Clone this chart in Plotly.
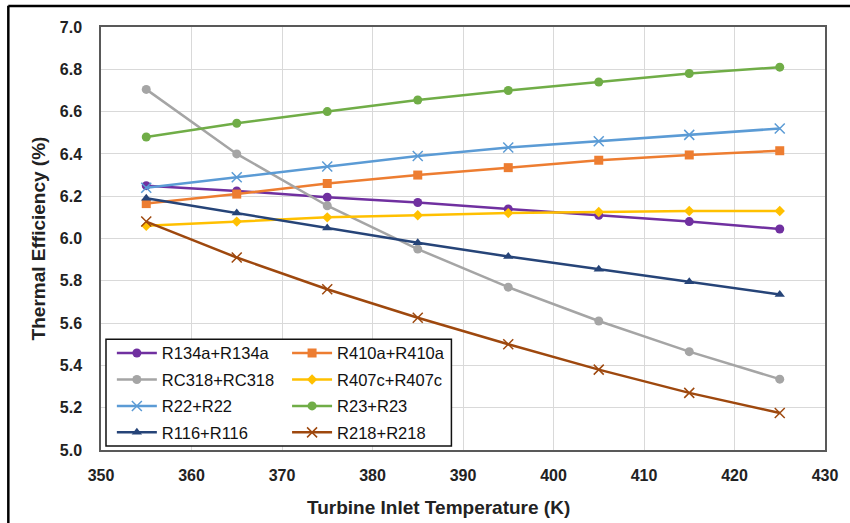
import plotly.graph_objects as go

temps = [355, 365, 375, 385, 395, 405, 415, 425]

r134a = [6.25, 6.225, 6.195, 6.17, 6.14, 6.11, 6.08, 6.045]
r410a = [6.165, 6.21, 6.26, 6.30, 6.335, 6.37, 6.395, 6.415]
rc318 = [6.705, 6.40, 6.155, 5.95, 5.77, 5.61, 5.465, 5.335]
r407c = [6.06, 6.08, 6.10, 6.11, 6.12, 6.125, 6.13, 6.13]
r22 = [6.24, 6.29, 6.34, 6.39, 6.43, 6.46, 6.49, 6.52]
r23 = [6.48, 6.545, 6.60, 6.655, 6.70, 6.74, 6.78, 6.81]
r116 = [6.19, 6.12, 6.05, 5.98, 5.915, 5.855, 5.795, 5.735]
r218 = [6.08, 5.91, 5.76, 5.625, 5.50, 5.38, 5.27, 5.175]

x_ticks = [350, 360, 370, 380, 390, 400, 410, 420, 430]
y_ticks = [5.0, 5.2, 5.4, 5.6, 5.8, 6.0, 6.2, 6.4, 6.6, 6.8, 7.0]

series = [
    # name, values, color, symbol, size, legend
    ("R134a+R134a", r134a, "#7030A0", "circle", 9, "legend"),
    ("RC318+RC318", rc318, "#A5A5A5", "circle", 9, "legend"),
    ("R22+R22", r22, "#5B9BD5", "x-thin", 10, "legend"),
    ("R116+R116", r116, "#264478", "triangle-up", 9, "legend"),
    ("R410a+R410a", r410a, "#ED7D31", "square", 9, "legend2"),
    ("R407c+R407c", r407c, "#FFC000", "diamond", 8, "legend2"),
    ("R23+R23", r23, "#70AD47", "circle", 9, "legend2"),
    ("R218+R218", r218, "#9E480E", "x-thin", 10, "legend2"),
]

order = ["R134a+R134a", "R410a+R410a", "RC318+RC318", "R407c+R407c",
         "R22+R22", "R23+R23", "R116+R116", "R218+R218"]
smap = {s[0]: s for s in series}

FONT = "Liberation Sans, Arial, sans-serif"

fig = go.Figure()
for nm in order:
    name, vals, color, sym, size, leg = smap[nm]
    marker = dict(color=color, symbol=sym, size=size)
    if sym.endswith("thin"):
        marker["line"] = dict(color=color, width=1.5)
    fig.add_trace(go.Scatter(
        x=temps, y=vals, name=name, mode="lines+markers",
        line=dict(color=color, width=2.5), marker=marker,
        legend=leg, legendgroup=name,
    ))

legend_common = dict(
    bgcolor="rgba(0,0,0,0)", borderwidth=0,
    font=dict(family=FONT, size=16.5, color="#111"),
    itemwidth=40, tracegroupgap=2, traceorder="grouped",
    xanchor="left", yanchor="top",
)

fig.update_layout(
    width=850, height=523,
    margin=dict(l=101, r=22, t=27, b=73),
    paper_bgcolor="white", plot_bgcolor="white",
    showlegend=True,
    legend=dict(x=0.015, y=0.27, **legend_common),
    legend2=dict(x=0.257, y=0.27, **legend_common),
    xaxis=dict(
        range=[350, 430], tickvals=x_ticks, ticktext=[str(v) for v in x_ticks],
        showgrid=True, gridcolor="#d9d9d9", gridwidth=1,
        showline=True, linecolor="#595959", linewidth=1.5, mirror=True,
        ticks="", ticklabelstandoff=10,
        tickfont=dict(family=FONT, size=16, color="#222", weight="bold"),
        zeroline=False,
    ),
    yaxis=dict(
        range=[5.0, 7.0], tickvals=y_ticks, ticktext=[f"{v:.1f}" for v in y_ticks],
        showgrid=True, gridcolor="#d9d9d9", gridwidth=1,
        showline=True, linecolor="#595959", linewidth=1.5, mirror=True,
        ticks="", ticklabelstandoff=14,
        tickfont=dict(family=FONT, size=16, color="#222", weight="bold"),
        title=dict(text="Thermal Efficiency (%)", standoff=9,
                   font=dict(family=FONT, size=19, color="#222", weight="bold")),
        zeroline=False,
    ),
    annotations=[
        dict(text="Turbine Inlet Temperature (K)", xref="paper", yref="paper",
             x=0.466, y=-0.137, xanchor="center", yanchor="middle", showarrow=False,
             font=dict(family=FONT, size=19, color="#222", weight="bold")),
    ],
    shapes=[
        dict(type="rect", xref="paper", yref="paper", x0=0.0069, x1=0.484, y0=0.0095, y1=0.262,
             line=dict(color="#111", width=1.5), fillcolor="white", layer="above"),
        dict(type="line", xref="paper", yref="paper", x0=-0.128, x1=-0.128, y0=-0.2, y1=1.05,
             line=dict(color="black", width=2.5)),
        dict(type="line", xref="paper", yref="paper", x0=-0.128, x1=1.05, y0=1.0497, y1=1.0497,
             line=dict(color="black", width=2.5)),
    ],
)

fig.write_html("out.html", config={"displayModeBar": False},
               post_script="document.body.style.margin='0';")
